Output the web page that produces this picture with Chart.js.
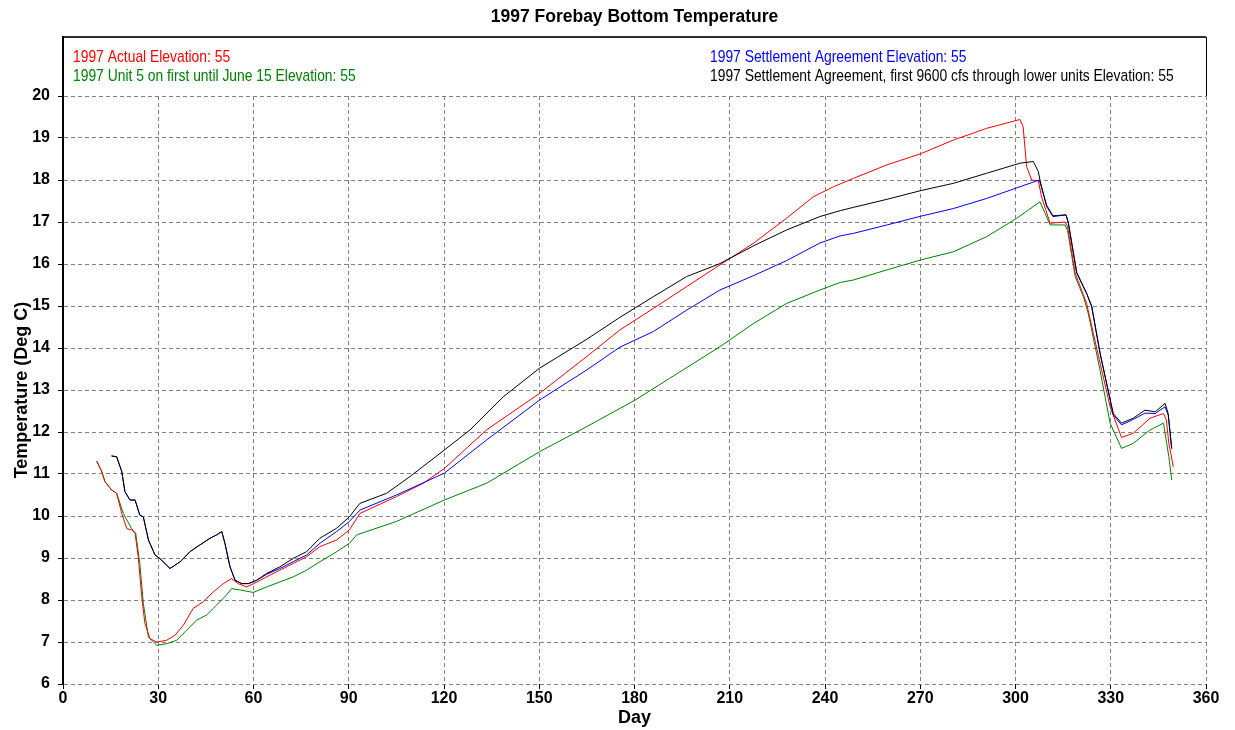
<!DOCTYPE html>
<html>
<head>
<meta charset="utf-8">
<title>1997 Forebay Bottom Temperature</title>
<script src="https://cdn.jsdelivr.net/npm/chart.js@4.4.1/dist/chart.umd.min.js"></script>
<style>
  body { margin: 0; background: #ffffff; }
  #wrap { width: 1235px; height: 730px; }
</style>
</head>
<body>
<div id="wrap"><canvas id="temp-chart" width="1235" height="730"></canvas></div>
<script>
// SERIES DATA (day of year, temperature deg C)
const actualDays = [10.6, 12.2, 13.2, 15.3, 16.9, 18.5, 20.1, 21.6, 22.7, 23.7, 24.8, 25.8, 27.4, 29.5, 32.6, 35.3, 37.9, 41.0, 44.2, 47.3, 50.5, 53.1, 55.2, 57.8, 60.1, 64.1, 68.3, 72.5, 76.7, 80.9, 86.2, 90.2, 93.5, 105, 113.5, 120.1, 133.4, 150.1, 165, 175.4, 185.9, 196.4, 206.9, 217.4, 227.9, 236.3, 242.7, 249, 259.5, 270.3, 280.4, 290.9, 301.4, 302.4, 303.5, 305.1, 307.2, 308.2, 310.9, 315.6, 316.4, 318.8, 322.4, 324.5, 329.8, 333.4, 337.1, 342.4, 346.6, 347.5, 348.3, 349.7];
const actualTemps = [11.31, 11.06, 10.82, 10.62, 10.54, 10.06, 9.7, 9.67, 9.59, 9.03, 8.08, 7.44, 7.08, 7.0, 7.04, 7.16, 7.4, 7.8, 7.96, 8.19, 8.39, 8.51, 8.39, 8.31, 8.39, 8.55, 8.71, 8.87, 9.03, 9.27, 9.43, 9.67, 10.06, 10.46, 10.78, 11.13, 12.05, 12.92, 13.8, 14.43, 14.94, 15.46, 15.98, 16.49, 17.09, 17.6, 17.84, 18.04, 18.36, 18.63, 18.95, 19.23, 19.44, 19.27, 18.32, 18.0, 17.98, 17.6, 16.97, 17.0, 16.89, 15.78, 15.06, 14.35, 12.6, 11.87, 11.97, 12.33, 12.44, 12.29, 11.73, 11.17];

const unit5Days = [10.6, 12.2, 13.2, 15.3, 16.9, 19.0, 21.6, 22.9, 24.2, 25.3, 26.9, 29.5, 32.6, 35.8, 38.9, 42.1, 45.2, 48.4, 51.5, 53.1, 55.7, 59.9, 64.1, 68.3, 72.5, 76.7, 80.9, 86.2, 90.2, 92.5, 105, 120.1, 133.4, 150.1, 165, 180.2, 191.1, 206.9, 217.4, 227.9, 238.4, 244.8, 249, 259.5, 270.3, 280.4, 290.9, 300.4, 307.7, 309.3, 310.9, 315.6, 316.4, 318.8, 321.4, 322.9, 326.6, 329.8, 333.4, 337.1, 342.4, 346.6, 348.3, 349.2];
const unit5Temps = [11.31, 11.06, 10.82, 10.62, 10.54, 10.06, 9.7, 9.59, 8.87, 7.92, 7.12, 6.92, 6.96, 7.04, 7.28, 7.52, 7.64, 7.88, 8.12, 8.27, 8.24, 8.18, 8.31, 8.43, 8.55, 8.71, 8.91, 9.15, 9.35, 9.55, 9.87, 10.38, 10.78, 11.53, 12.13, 12.76, 13.28, 14.03, 14.58, 15.06, 15.38, 15.56, 15.62, 15.86, 16.1, 16.29, 16.65, 17.09, 17.48, 17.21, 16.93, 16.93, 16.8, 15.7, 15.22, 14.83, 13.48, 12.21, 11.61, 11.73, 12.05, 12.21, 11.41, 10.86];

const settlementDays = [15.3, 16.9, 18.5, 19.5, 21.1, 22.7, 24.2, 25.3, 26.9, 29.0, 30.5, 33.7, 36.9, 40.0, 43.1, 46.3, 48.4, 50.0, 51.0, 52.6, 54.2, 56.3, 58.4, 61.0, 64.1, 68.3, 72.5, 76.7, 80.9, 86.2, 90.2, 93.5, 105, 120.1, 133.4, 150.1, 165, 175.4, 185.9, 196.4, 206.9, 217.4, 227.9, 238.4, 244.8, 249, 259.5, 270.3, 280.4, 290.9, 301.4, 307.5, 309.8, 311.8, 315.9, 316.6, 319.3, 322.4, 324, 326.6, 330.8, 333.4, 337.1, 340.8, 344, 347.1, 348.1, 349.2];
const settlementTemps = [11.43, 11.41, 11.06, 10.58, 10.38, 10.38, 10.02, 9.98, 9.43, 9.07, 8.99, 8.75, 8.91, 9.15, 9.31, 9.47, 9.55, 9.63, 9.35, 8.79, 8.47, 8.39, 8.39, 8.47, 8.61, 8.75, 8.91, 9.07, 9.35, 9.63, 9.87, 10.14, 10.5, 11.02, 11.81, 12.76, 13.48, 14.02, 14.39, 14.9, 15.38, 15.72, 16.08, 16.5, 16.67, 16.73, 16.93, 17.14, 17.32, 17.56, 17.84, 18.0, 17.4, 17.15, 17.17, 17.0, 15.8, 15.3, 15.0, 13.9, 12.4, 12.17, 12.3, 12.45, 12.44, 12.6, 12.4, 11.6];

const lowerUnitsDays = [15.3, 16.9, 18.5, 19.5, 21.1, 22.7, 24.2, 25.3, 26.9, 29.0, 30.5, 33.7, 36.9, 40.0, 43.1, 46.3, 48.4, 50.0, 51.0, 52.6, 54.2, 56.3, 58.4, 61.0, 64.1, 68.3, 72.5, 76.7, 80.9, 86.2, 90.2, 93.5, 101.9, 109.3, 120.1, 128.2, 138.7, 150.1, 165, 175.4, 185.9, 196.4, 206.9, 217.4, 227.9, 238.4, 244.8, 249, 259.5, 270.3, 280.4, 290.9, 301.4, 305.6, 307.2, 307.7, 309.8, 311.8, 315.9, 316.6, 319.3, 322.4, 324, 326.6, 330.8, 333.4, 337.1, 340.8, 344, 347.1, 348.1, 349.2];
const lowerUnitsTemps = [11.43, 11.41, 11.06, 10.58, 10.38, 10.38, 10.02, 9.98, 9.43, 9.07, 8.99, 8.75, 8.91, 9.15, 9.31, 9.47, 9.55, 9.63, 9.35, 8.79, 8.47, 8.39, 8.39, 8.47, 8.63, 8.79, 8.99, 9.15, 9.47, 9.71, 9.98, 10.3, 10.54, 10.94, 11.57, 12.05, 12.84, 13.52, 14.21, 14.73, 15.22, 15.7, 16.01, 16.43, 16.81, 17.13, 17.27, 17.35, 17.54, 17.75, 17.92, 18.16, 18.4, 18.44, 18.2, 18.0, 17.37, 17.13, 17.17, 16.99, 15.78, 15.3, 14.98, 13.88, 12.44, 12.21, 12.33, 12.52, 12.48, 12.68, 12.44, 11.61];

// SERIES NAMES AND AXES
const seriesLabels = [
  "1997 Actual Elevation: 55",
  "1997 Unit 5 on first until June 15 Elevation: 55",
  "1997 Settlement Agreement Elevation: 55",
  "1997 Settlement Agreement, first 9600 cfs through lower units Elevation: 55"
];
const seriesColors = ["#ff0000", "#008000", "#0000ff", "#000000"];
const dayTicks = [0, 30, 60, 90, 120, 150, 180, 210, 240, 270, 300, 330, 360];
const tempTicks = [6, 7, 8, 9, 10, 11, 12, 13, 14, 15, 16, 17, 18, 19, 20];

const chartTitle = "1997 Forebay Bottom Temperature";
const xTitle = "Day";
const yTitle = "Temperature (Deg C)";

function toPoints(days, temps){
  return days.map((d, i) => ({ x: d, y: temps[i] }));
}

const LEGEND_H = 59;
const SANS = "'Liberation Sans', Arial, sans-serif";

// legend panel drawn in the framed strip above the plot
const legendBox = {
  id: "legendBox",
  afterDraw(chart){
    const { ctx, chartArea: a } = chart;
    const top = a.top - LEGEND_H;
    ctx.save();
    ctx.strokeStyle = "#303030";
    ctx.lineWidth = 2;
    ctx.beginPath();
    ctx.moveTo(a.left, top);
    ctx.lineTo(a.right, top);
    ctx.stroke();
    ctx.lineWidth = 1;
    ctx.strokeStyle = "#000000";
    ctx.beginPath();
    ctx.moveTo(a.right + 0.5, top);
    ctx.lineTo(a.right + 0.5, a.top);
    ctx.stroke();
    ctx.lineWidth = 2;
    ctx.beginPath();
    ctx.moveTo(a.left, top - 1);
    ctx.lineTo(a.left, a.top);
    ctx.stroke();

    // narrow lettering: squeeze the text horizontally
    ctx.font = "17px " + SANS;
    ctx.textBaseline = "middle";
    ctx.textAlign = "left";
    const spots = [
      [a.left + 10, a.top - 39],
      [a.left + 10, a.top - 20],
      [a.left + 647, a.top - 39],
      [a.left + 647, a.top - 20]
    ];
    chart.data.datasets.forEach((ds, i) => {
      ctx.save();
      ctx.translate(spots[i][0], spots[i][1]);
      ctx.scale(0.815, 1);
      ctx.fillStyle = ds.borderColor;
      ctx.fillText(ds.label, 0, 0);
      ctx.restore();
    });
    ctx.restore();
  }
};

const ctx = document.getElementById("temp-chart").getContext("2d");

const series = [
  [actualDays, actualTemps, 2],
  [unit5Days, unit5Temps, 3],
  [settlementDays, settlementTemps, 1],
  [lowerUnitsDays, lowerUnitsTemps, 0]
];

new Chart(ctx, {
  type: "line",
  data: {
    datasets: series.map((s, i) => ({
      label: seriesLabels[i],
      data: toPoints(s[0], s[1]),
      borderColor: seriesColors[i],
      backgroundColor: seriesColors[i],
      borderWidth: 1,
      pointRadius: 0,
      tension: 0,
      fill: false,
      order: s[2]
    }))
  },
  options: {
    responsive: false,
    animation: false,
    layout: { padding: { top: 0, right: 29, bottom: 0, left: 0 } },
    plugins: {
      legend: { display: false },
      tooltip: { enabled: false },
      title: {
        display: true,
        text: chartTitle,
        fullSize: false,
        color: "#000000",
        font: { family: SANS, size: 17.5, weight: "bold" },
        padding: { top: 7, bottom: 68 }
      }
    },
    scales: {
      x: {
        type: "linear",
        min: 0,
        max: 360,
        afterBuildTicks: axis => { axis.ticks = dayTicks.map(v => ({ value: v })); },
        afterFit: axis => { axis.height = 46; },
        ticks: {
          color: "#000000",
          padding: 0,
          maxRotation: 0,
          font: { family: SANS, size: 16, weight: "bold" }
        },
        grid: {
          color: "#808080",
          tickColor: "#000000",
          tickLength: 5,
          tickBorderDash: []
        },
        border: { display: false, dash: [4, 3] },
        title: {
          display: true,
          text: xTitle,
          color: "#000000",
          font: { family: SANS, size: 18, weight: "bold" },
          padding: { top: 0, bottom: 1 }
        }
      },
      y: {
        type: "linear",
        min: 6,
        max: 20,
        afterBuildTicks: axis => { axis.ticks = tempTicks.map(v => ({ value: v })); },
        afterFit: axis => { axis.width = 63; },
        ticks: {
          color: "#000000",
          padding: 8,
          font: { family: SANS, size: 16, weight: "bold" }
        },
        grid: {
          color: "#808080",
          tickColor: "#000000",
          tickLength: 5,
          tickBorderDash: []
        },
        border: { display: true, color: "#000000", width: 2, dash: [4, 3] },
        title: {
          display: true,
          text: yTitle,
          color: "#000000",
          font: { family: SANS, size: 18, weight: "bold" },
          padding: { top: 11, bottom: 0 }
        }
      }
    }
  },
  plugins: [legendBox]
});
</script>
</body>
</html>
